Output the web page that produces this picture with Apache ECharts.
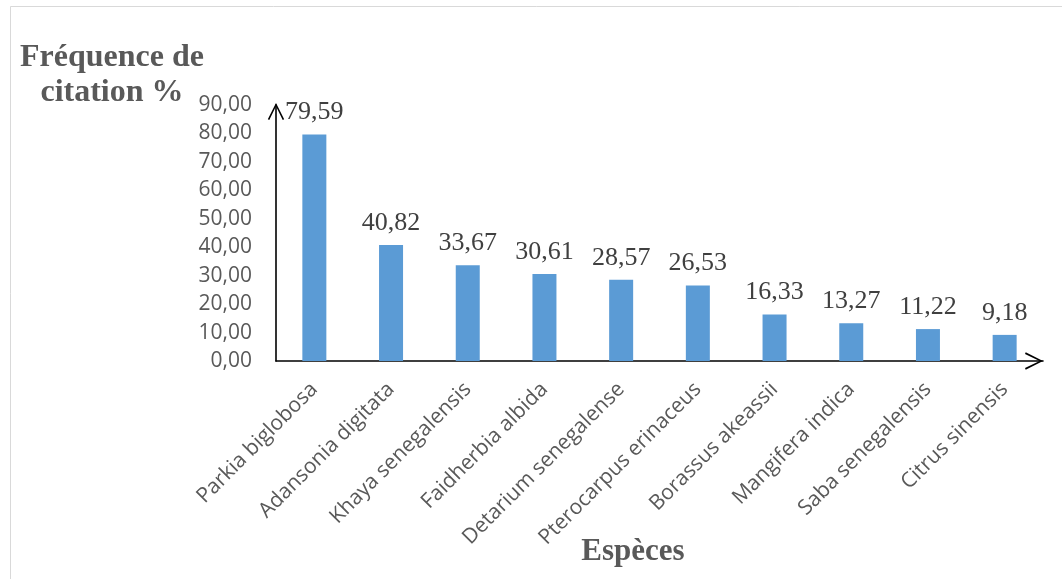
<!DOCTYPE html>
<html>
<head>
<meta charset="utf-8">
<script src="https://cdn.jsdelivr.net/npm/echarts@6/dist/echarts.min.js"></script>
<style>
  html, body { margin: 0; padding: 0; background: #ffffff; }
  #chart { width: 1062px; height: 579px; }
</style>
</head>
<body>
<div id="chart"></div>
<script>
// Species and their citation frequency (%)
const species = [
  'Parkia biglobosa', 'Adansonia digitata', 'Khaya senegalensis', 'Faidherbia albida',
  'Detarium senegalense', 'Pterocarpus erinaceus', 'Borassus akeassii', 'Mangifera indica',
  'Saba senegalensis', 'Citrus sinensis'
];
const frequency = [79.59, 40.82, 33.67, 30.61, 28.57, 26.53, 16.33, 13.27, 11.22, 9.18];

const yAxisTitle = 'Fréquence de\ncitation %';
const xAxisTitle = 'Espèces';

// French decimal format: 79,59
const frNum = v => Number(v).toFixed(2).replace('.', ',');

// Open arrow head (chevron) pointing along the axis
const openArrow = 'path://M0.5,17 L9,0 L17.5,17 L16,17.7 L9,3.3 L2,17.7 Z';

const chart = echarts.init(document.getElementById('chart'), null, { renderer: 'canvas' });

chart.setOption({
  animation: false,
  backgroundColor: '#ffffff',
  title: [
    {
      text: yAxisTitle,
      left: 107, top: 35, textAlign: 'center',
      textStyle: {
        fontFamily: 'Liberation Serif', fontWeight: 'bold', fontSize: 32,
        lineHeight: 35, color: '#595959', align: 'center'
      }
    },
    {
      text: xAxisTitle,
      left: 628, top: 531, textAlign: 'center',
      textStyle: {
        fontFamily: 'Liberation Serif', fontWeight: 'bold', fontSize: 31, color: '#595959'
      }
    }
  ],
  graphic: [
    {
      type: 'rect',
      shape: { x: 10.5, y: 6.5, width: 1100, height: 640 },
      style: { fill: 'none', stroke: '#d9d9d9', lineWidth: 1 },
      silent: true
    }
  ],
  grid: { left: 276, right: 19, top: 105, bottom: 218, containLabel: false },
  xAxis: {
    type: 'category',
    data: species,
    boundaryGap: true,
    axisLine: {
      show: true,
      lineStyle: { color: '#000000', width: 1.6 },
      symbol: ['none', openArrow],
      symbolSize: [18, 18],
      symbolOffset: [0, -9]
    },
    axisTick: { show: false },
    splitLine: { show: false },
    axisLabel: {
      interval: 0, rotate: 45, margin: 25,
      fontFamily: 'Open Sans', fontSize: 21, color: '#595959'
    }
  },
  yAxis: {
    type: 'value',
    min: 0, max: 90, interval: 10,
    axisLine: {
      show: true,
      lineStyle: { color: '#000000', width: 1.6 },
      symbol: ['none', openArrow],
      symbolSize: [17, 17],
      symbolOffset: [0, -6.5]
    },
    axisTick: { show: false },
    splitLine: { show: false },
    axisLabel: {
      margin: 24,
      fontFamily: 'Open Sans', fontSize: 21, color: '#595959',
      formatter: v => frNum(v)
    }
  },
  series: [
    {
      type: 'bar',
      data: frequency,
      barWidth: 24,
      itemStyle: { color: '#5b9bd5' },
      label: {
        show: true, position: 'top', distance: 9,
        fontFamily: 'Liberation Serif', fontSize: 26, color: '#404040',
        formatter: p => frNum(p.value)
      }
    }
  ]
});
</script>
</body>
</html>
